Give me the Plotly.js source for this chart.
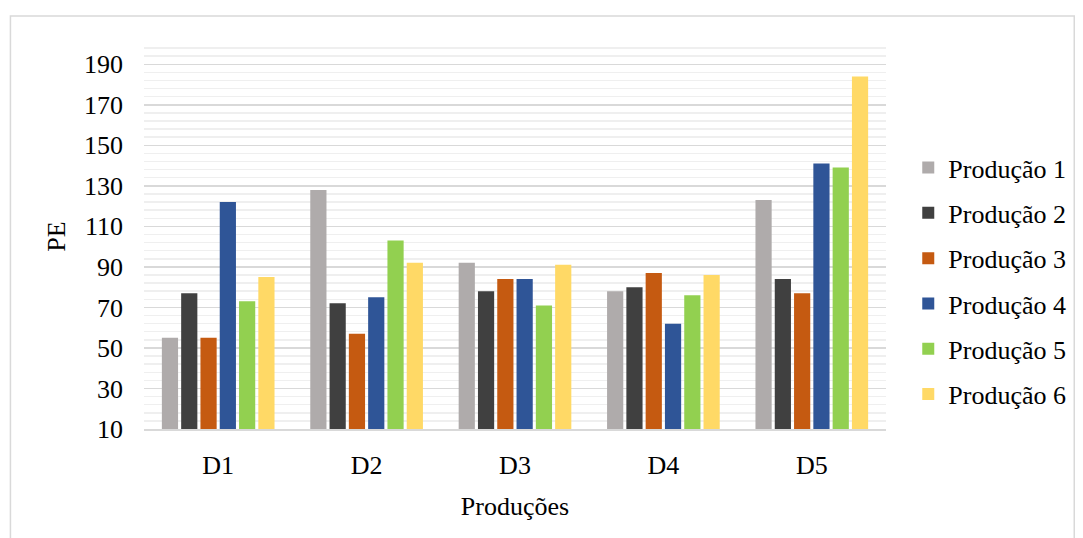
<!DOCTYPE html>
<html>
<head>
<meta charset="utf-8">
<script src="https://cdn.plot.ly/plotly-3.0.1.min.js"></script>
<style>
  html, body { margin: 0; padding: 0; background: #fff; }
  #chart { width: 1083px; height: 538px; }
</style>
</head>
<body>
<div id="chart"></div>
<script>
// Categories and series
const categories = ['D1', 'D2', 'D3', 'D4', 'D5'];
const seriesNames = ['Produção 1', 'Produção 2', 'Produção 3', 'Produção 4', 'Produção 5', 'Produção 6'];
const producao1 = [55, 128, 92, 78, 123];
const producao2 = [77, 72, 78, 80, 84];
const producao3 = [55, 57, 84, 87, 77];
const producao4 = [122, 75, 84, 62, 141];
const producao5 = [73, 103, 71, 76, 139];
const producao6 = [85, 92, 91, 86, 184];
const seriesValues = [producao1, producao2, producao3, producao4, producao5, producao6];
const seriesColors = ['#afabab', '#404040', '#c55a11', '#2f5597', '#92d050', '#ffd966'];

const FONT = 'Liberation Serif, "Times New Roman", serif';
const FS = 26;

const traces = seriesNames.map((name, i) => ({
  type: 'bar',
  name: name,
  x: categories,
  y: seriesValues[i],
  marker: { color: seriesColors[i], line: { width: 0 } },
  legendgroup: 'g' + i,
  hoverinfo: 'x+y+name'
}));

const layout = {
  width: 1083,
  height: 538,
  margin: { l: 144, r: 194, t: 44, b: 109 },
  paper_bgcolor: '#ffffff',
  plot_bgcolor: '#ffffff',
  font: { family: FONT, size: FS, color: '#000000' },
  barmode: 'group',
  bargap: 0.22,
  bargroupgap: 0.16,
  showlegend: true,
  legend: {
    x: 1.03, xanchor: 'left',
    y: 0.384, yanchor: 'middle',
    traceorder: 'grouped',
    tracegroupgap: 8.5,
    font: { family: FONT, size: FS, color: '#000000' },
    itemwidth: 30
  },
  xaxis: {
    showgrid: false,
    ticks: '',
    showline: true,
    linecolor: '#d9d9d9',
    linewidth: 1.5,
    tickfont: { family: FONT, size: FS },
    ticklabelstandoff: 12,
    title: { text: 'Produções', font: { family: FONT, size: FS }, standoff: 18 }
  },
  yaxis: {
    range: [10, 200],
    tick0: 10,
    dtick: 20,
    ticks: '',
    showline: false,
    zeroline: false,
    showgrid: true,
    gridcolor: '#d9d9d9',
    gridwidth: 1.5,
    minor: { tick0: 10, dtick: 4, showgrid: true, gridcolor: '#efefef', gridwidth: 1.5 },
    tickfont: { family: FONT, size: FS },
    ticklabelstandoff: 20,
    title: { text: 'PE', font: { family: FONT, size: FS }, standoff: 10 }
  },
  shapes: [{
    type: 'rect', xref: 'paper', yref: 'paper', layer: 'below',
    x0: -0.18, x1: 1.2537, y0: -0.285, y1: 1.0727,
    line: { color: '#d9d9d9', width: 1.5 },
    fillcolor: 'rgba(0,0,0,0)'
  }]
};

Plotly.newPlot('chart', traces, layout, { displayModeBar: false, staticPlot: true });
</script>
</body>
</html>
